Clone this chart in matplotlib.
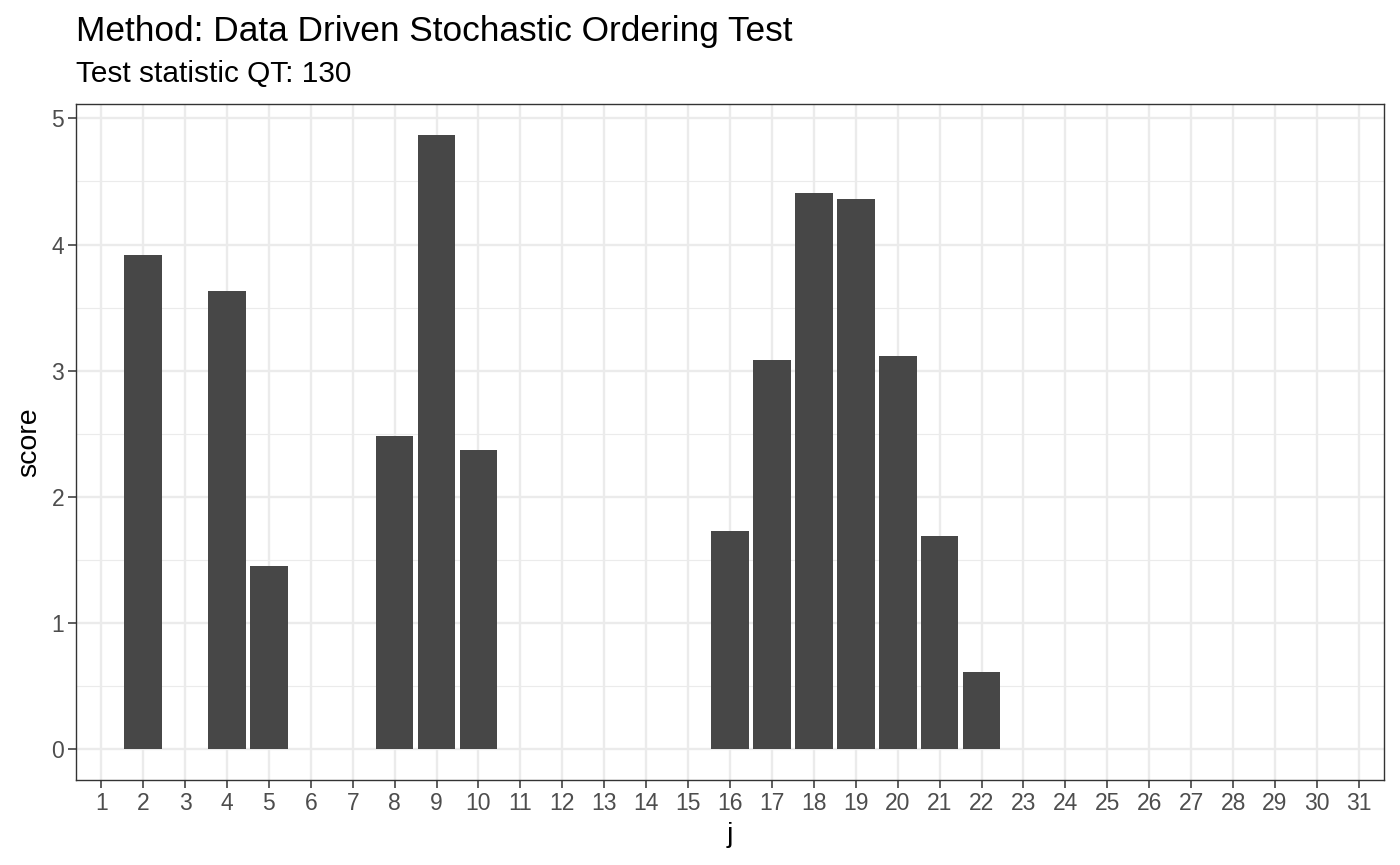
import matplotlib
matplotlib.use("Agg")
import matplotlib.pyplot as plt
import numpy as np
from matplotlib.ticker import MultipleLocator

plt.rcParams['font.family'] = ['Liberation Sans', 'DejaVu Sans']

j = list(range(1, 32))
score = [0, 3.92, 0, 3.63, 1.453, 0, 0, 2.48, 4.87, 2.375,
         0, 0, 0, 0, 0, 1.727, 3.086, 4.405, 4.357, 3.118,
         1.688, 0.611, 0, 0, 0, 0, 0, 0, 0, 0, 0]
title = "Method: Data Driven Stochastic Ordering Test"
subtitle = "Test statistic QT: 130"

W, H = 1400, 865
fig = plt.figure(figsize=(W / 100, H / 100), dpi=100)
L, R, T, B = 76, 1384, 104, 780
ax = fig.add_axes([L / W, (H - B) / H, (R - L) / W, (B - T) / H])

ax.bar(j, score, width=0.9, color='#474747', zorder=3)

ymax = max(score)
ax.set_ylim(-0.05 * ymax, ymax * 1.05)
ax.set_xlim(0.4, 31.6)
ax.set_xticks(j)
ax.set_xticklabels([str(v) for v in j])
ax.yaxis.set_major_locator(MultipleLocator(1))
ax.yaxis.set_minor_locator(MultipleLocator(0.5))

ax.grid(which='major', color='#EBEBEB', linewidth=1.7, zorder=0)
ax.grid(which='minor', axis='y', color='#EBEBEB', linewidth=0.85, zorder=0)
ax.set_axisbelow(True)
for s in ax.spines.values():
    s.set_color('#333333')
    s.set_linewidth(1.0)
ax.tick_params(which='major', length=5.5, width=1.1, color='#333333',
               labelcolor='#4D4D4D', labelsize=16.5, pad=3)
ax.tick_params(which='minor', length=0)

ax.set_xlabel('j', fontsize=20.5, color='black', labelpad=5)
ax.set_ylabel('score', fontsize=20.5, color='black', labelpad=7)

fig.text(L / W, 1 - 41.5 / H, title, fontsize=25.4, color='black', ha='left', va='baseline')
fig.text(L / W, 1 - 82 / H, subtitle, fontsize=21.4, color='black', ha='left', va='baseline')

fig.savefig('out.png', dpi=100)
